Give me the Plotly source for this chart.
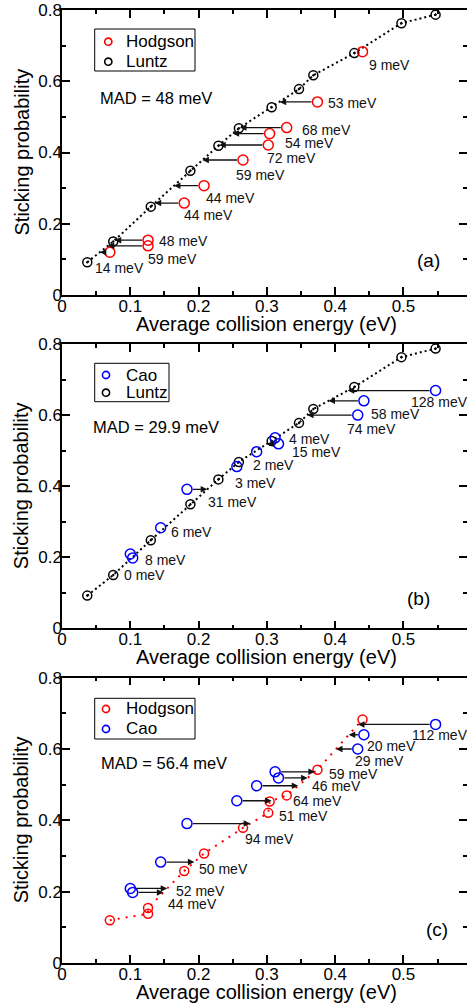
import numpy as np
import plotly.graph_objects as go

# ---------------- data ----------------
luntz_x = [0.037, 0.075, 0.130, 0.188, 0.229, 0.259, 0.307, 0.347, 0.368, 0.428, 0.497, 0.547]
luntz_y = [0.092, 0.150, 0.248, 0.349, 0.419, 0.468, 0.527, 0.578, 0.617, 0.679, 0.763, 0.787]

hodgson_x = [0.070, 0.126, 0.126, 0.179, 0.208, 0.265, 0.302, 0.304, 0.329, 0.374, 0.440]
hodgson_y = [0.120, 0.138, 0.154, 0.258, 0.307, 0.379, 0.421, 0.453, 0.470, 0.542, 0.683]

cao_x = [0.100, 0.1035, 0.1445, 0.183, 0.256, 0.285, 0.312, 0.317, 0.433, 0.442, 0.547]
cao_y = [0.209, 0.198, 0.283, 0.391, 0.455, 0.497, 0.536, 0.519, 0.600, 0.640, 0.669]

# deviations (meV) shown next to the arrows
dev_a = [14, 59, 48, 44, 44, 59, 72, 54, 68, 53, 9]        # Hodgson vs Luntz
dev_b = [8, 0, 6, 31, 3, 2, 4, 15, 74, 58, 128]             # Cao vs Luntz
dev_c = [52, 44, 50, 94, 51, 64, 59, 46, 29, 20, 112]       # Cao vs Hodgson

mad_text = ["MAD = 48 meV", "MAD = 29.9 meV", "MAD = 56.4 meV"]
panel_tags = ["(a)", "(b)", "(c)"]
legend_names = [["Hodgson", "Luntz"], ["Cao", "Luntz"], ["Hodgson", "Cao"]]
x_title = "Average collision energy (eV)"
y_title = "Sticking probability"

# ---------------- layout/style ----------------
FONT = "Liberation Sans, Arial, Helvetica, sans-serif"
RED, BLUE, BLACK = "#ff0000", "#0000ff", "#000000"
W, H = 467, 1007
ML, MR, MT, MB = 62, 0, 10, 44
plot_h = H - MT - MB
plot_w = W - ML - MR

def ypaper(py):
    return (H - MB - py) / plot_h

domains = [[ypaper(295), 1.0], [ypaper(628.3), ypaper(344)], [0.0, ypaper(677.7)]]
panel_px = [((H - MB) - d[1] * plot_h, (H - MB) - d[0] * plot_h) for d in domains]

def xdom(px):
    return (px - ML) / plot_w

def ydom(k, py):
    top, bot = panel_px[k]
    return (bot - py) / (bot - top)

# label offsets in px (dx right, dy down) relative to the starting point of each arrow
off_a = [(-17, 16), (-2, 13), (9, 1), (-2, 12), (0, 12), (-9, 15), (-3, 13), (13, 9), (13, 2), (9, 1), (4, 13)]
off_b = [(12.6, 6.4), (-10.7, 16.7), (8.6, 4), (19, 13), (-3.4, 16.8), (-6, 13.3), (12.3, 1.6),
         (11.7, 8), (-12.7, 13.7), (5.3, 13.3), (-27, 11.4)]
off_c = [(43.3, 2.7), (33, 11.7), (36, 7.3), (56.3, 15.3), (39.7, 15.7), (34.3, 15.3), (52.4, 1.7),
         (31, 8.4), (-5, 12.4), (1, 11.7), (-26, 11)]
mad_pos = [(0.053, 0.5525), (0.043, 0.567), (0.0546, 0.560)]
tag_pos = [(0.537, 0.098), (0.522, 0.084), (0.549, 0.093)]
# legend boxes (px): left, right, top, bottom, marker x, text x, row ys
legend_geo = [
    (94.7, 195.0, 29.0, 71.0, 108.3, 124.0, (41.7, 61.7)),
    (94.7, 169.0, 363.3, 401.7, 106.0, 124.0, (375.0, 392.7)),
    (94.7, 195.0, 698.3, 739.0, 106.0, 124.0, (709.0, 729.0)),
]
legend_cols = [[RED, BLACK], [BLUE, BLACK], [RED, BLUE]]

fig = go.Figure()
annotations = []
shapes = []

def add_panel(k, ref_x, ref_y, ref_col, ref_sym, ref_line_dash,
              exp_x, exp_y, exp_col, devs, offs):
    xa = "x" if k == 0 else f"x{k+1}"
    ya = "y" if k == 0 else f"y{k+1}"
    fig.add_trace(go.Scatter(x=ref_x, y=ref_y, mode="lines", xaxis=xa, yaxis=ya,
                             line=dict(color=ref_col, width=2, dash=ref_line_dash),
                             showlegend=False, hoverinfo="skip"))
    fig.add_trace(go.Scatter(x=ref_x, y=ref_y, mode="markers", xaxis=xa, yaxis=ya, showlegend=False,
                             marker=dict(symbol=ref_sym, size=9, color=ref_col,
                                         line=dict(width=1.5, color=ref_col))))
    fig.add_trace(go.Scatter(x=exp_x, y=exp_y, mode="markers", xaxis=xa, yaxis=ya, showlegend=False,
                             marker=dict(symbol="circle-open", size=10, color=exp_col,
                                         line=dict(width=1.5, color=exp_col))))
    ends = np.interp(exp_y, ref_y, ref_x)
    for xs, ys, xe, d, (dx, dy) in zip(exp_x, exp_y, ends, devs, offs):
        if abs(xe - xs) >= 0.012:
            annotations.append(dict(x=xe, y=ys, ax=xs, ay=ys, xref=xa, yref=ya, axref=xa, ayref=ya,
                                    showarrow=True, arrowhead=2, arrowsize=1, arrowwidth=1.3,
                                    arrowcolor="#111111", standoff=0, startstandoff=4.5, text=""))
        annotations.append(dict(x=xs, y=ys, xref=xa, yref=ya, text=f"{d} meV", showarrow=False,
                                xanchor="left", yanchor="middle", xshift=dx, yshift=-dy,
                                font=dict(size=14, color="#111111", family=FONT)))

add_panel(0, luntz_x, luntz_y, BLACK, "circle-open-dot", "2px,3px",
          hodgson_x, hodgson_y, RED, dev_a, off_a)
add_panel(1, luntz_x, luntz_y, BLACK, "circle-open-dot", "2px,3px",
          cao_x, cao_y, BLUE, dev_b, off_b)
add_panel(2, hodgson_x, hodgson_y, RED, "circle-open", "2px,6px",
          cao_x, cao_y, BLUE, dev_c, off_c)

for k in range(3):
    xa = "x" if k == 0 else f"x{k+1}"
    ya = "y" if k == 0 else f"y{k+1}"
    xd, yd = f"{xa} domain", f"{ya} domain"
    annotations.append(dict(x=mad_pos[k][0], y=mad_pos[k][1], xref=xa, yref=ya, text=mad_text[k],
                            showarrow=False, xanchor="left", yanchor="middle",
                            font=dict(size=16.5, color="black", family=FONT)))
    annotations.append(dict(x=tag_pos[k][0], y=tag_pos[k][1], xref=xa, yref=ya, text=panel_tags[k],
                            showarrow=False, xanchor="center", yanchor="middle",
                            font=dict(size=19, color="black", family=FONT)))
    # axis titles
    annotations.append(dict(x=0.505, y=0, xref=xd, yref=yd, yshift=-29, text=x_title,
                            showarrow=False, xanchor="center", yanchor="middle",
                            font=dict(size=20, color="black", family=FONT)))
    annotations.append(dict(x=0, y=0.5, xref=xd, yref=yd, xshift=-41, text=y_title, textangle=-90,
                            showarrow=False, xanchor="center", yanchor="middle",
                            font=dict(size=20, color="black", family=FONT)))
    # legend box
    l, r, t, b, mx, tx, rows = legend_geo[k]
    shapes.append(dict(type="rect", xref=xd, yref=yd, x0=xdom(l), x1=xdom(r),
                       y0=ydom(k, b), y1=ydom(k, t), line=dict(color="black", width=1),
                       fillcolor="rgba(0,0,0,0)", layer="above"))
    for name, col, ry in zip(legend_names[k], legend_cols[k], rows):
        shapes.append(dict(type="circle", xref=xd, yref=yd, xsizemode="pixel", ysizemode="pixel",
                           xanchor=xdom(mx), yanchor=ydom(k, ry), x0=-3.6, x1=3.6, y0=-3.6, y1=3.6,
                           line=dict(color=col, width=1.6), layer="above"))
        annotations.append(dict(x=xdom(tx), y=ydom(k, ry), xref=xd, yref=yd, text=name,
                                showarrow=False, xanchor="left", yanchor="middle",
                                font=dict(size=17, color="black", family=FONT)))

axis_common = dict(showline=True, linecolor="black", linewidth=1.5, mirror="ticks",
                   ticks="inside", ticklen=8, tickwidth=1.5, tickcolor="black",
                   showgrid=False, zeroline=False, ticklabelstandoff=-5,
                   tickfont=dict(size=17, color="black", family=FONT))

layout = dict(width=W, height=H, margin=dict(l=ML, r=MR, t=MT, b=MB),
              paper_bgcolor="white", plot_bgcolor="white", showlegend=False,
              font=dict(family=FONT, color="black"),
              annotations=annotations, shapes=shapes)

for k in range(3):
    sx = "" if k == 0 else str(k + 1)
    layout[f"xaxis{sx}"] = dict(axis_common, domain=[0, 1], anchor=f"y{sx}", range=[0, 0.593],
                                tick0=0, dtick=0.1,
                                minor=dict(dtick=0.05, ticks="inside", ticklen=4, tickwidth=1.5, tickcolor="black"),
                                automargin=False)
    layout[f"yaxis{sx}"] = dict(axis_common, domain=domains[k], anchor=f"x{sx}", range=[0, 0.8],
                                tick0=0, dtick=0.2,
                                minor=dict(dtick=0.1, ticks="inside", ticklen=4, tickwidth=1.5, tickcolor="black"),
                                automargin=False)

fig.update_layout(layout)
fig.write_html("out.html", config={"displayModeBar": False},
               post_script="document.body.style.margin='0px';document.body.style.overflow='hidden';")
